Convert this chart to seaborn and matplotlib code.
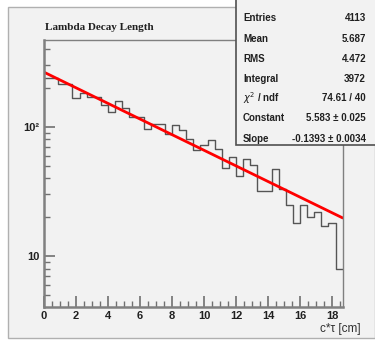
import numpy as np
import pandas as pd
import matplotlib
matplotlib.use("Agg")
import matplotlib.pyplot as plt
import seaborn as sns
from matplotlib.patches import Rectangle
from matplotlib.ticker import FixedLocator, FixedFormatter, MultipleLocator, NullFormatter

# ---- data ----
x_min, x_max, n_bins = 0.0, 18.67, 42
counts = [238, 238, 215, 215, 169, 182, 172, 172, 148, 131,
          159, 140, 120, 120, 96, 105, 105, 89, 104, 94,
          80, 66, 73, 79, 68, 48, 59, 42, 56, 51,
          32, 32, 47, 33, 25, 18, 25, 20, 22, 17,
          18, 8]
fit_constant = 5.583
fit_slope = -0.1393
stat_labels = ["Entries", "Mean", "RMS", "Integral", r"$\chi^2$ / ndf", "Constant", "Slope"]
stat_values = ["4113", "5.687", "4.472", "3972", "74.61 / 40",
               "5.583 ± 0.025", "-0.1393 ± 0.0034"]
title = "Lambda Decay Length"
xlabel = "c*τ [cm]"
xticks = [0, 2, 4, 6, 8, 10, 12, 14, 16, 18]
yticks = [10, 100]
ytick_labels = ["10", "10²"]

edges = np.linspace(x_min, x_max, n_bins + 1)
centers = 0.5 * (edges[:-1] + edges[1:])
df = pd.DataFrame({"x": centers, "w": counts})
fit_x = np.array([x_min, x_max])
fit_df = pd.DataFrame({"x": fit_x, "y": np.exp(fit_constant + fit_slope * fit_x)})

W, H = 375, 340
bg = "#f2f2f2"
sns.set_theme(style="white")
plt.rcParams["font.family"] = ["Liberation Sans", "DejaVu Sans"]

fig = plt.figure(figsize=(W / 100, H / 100), dpi=100)
fig.patch.set_facecolor("white")
fig.add_artist(Rectangle((8 / W, 1 - 338 / H), (W - 8) / W, (338 - 7) / H,
                         transform=fig.transFigure, facecolor=bg,
                         edgecolor="#b0b0b0", lw=1.0, zorder=0))

ax = fig.add_axes([44 / W, 1 - 306.7 / H, (342.7 - 44) / W, (306.7 - 40) / H])
ax.set_facecolor(bg)
sns.histplot(data=df, x="x", weights="w", bins=n_bins, binrange=(x_min, x_max),
             element="step", fill=False, color="#555555", linewidth=1.0, ax=ax)
sns.lineplot(data=fit_df, x="x", y="y", color="#ff0000", linewidth=2.0, ax=ax)
ax.set_yscale("log")
ax.set_xlim(x_min, x_max)
ax.set_ylim(4.05, 472)
ax.set_xlabel("")
ax.set_ylabel("")

for s in ax.spines.values():
    s.set_color("#808080")
    s.set_linewidth(1.0)
ax.spines["left"].set_linewidth(1.8)
ax.spines["bottom"].set_linewidth(1.8)

ax.xaxis.set_major_locator(FixedLocator(xticks))
ax.xaxis.set_minor_locator(MultipleLocator(0.5))
ax.yaxis.set_major_locator(FixedLocator(yticks))
ax.yaxis.set_major_formatter(FixedFormatter(ytick_labels))
minor_y = [v * d for d in (1, 10, 100) for v in range(2, 10) if 4.05 < v * d < 472]
ax.yaxis.set_minor_locator(FixedLocator(minor_y))
ax.yaxis.set_minor_formatter(NullFormatter())
ax.tick_params(axis="both", which="major", direction="in", length=8, width=1.2,
               color="#707070", labelsize=8, pad=3)
ax.tick_params(axis="both", which="minor", direction="in", length=4, width=1.0,
               color="#707070")
ax.tick_params(top=False, right=False, which="both")
ax.tick_params(axis="x", which="both", bottom=True)
ax.tick_params(axis="y", which="both", left=True)
for lab in ax.get_xticklabels() + ax.get_yticklabels():
    lab.set_fontweight("bold")
    lab.set_color("#202020")

fig.text(45 / W, 1 - 28 / H, title, family="Liberation Serif", fontweight="bold",
         fontsize=8, ha="left", va="center", color="#202020")
fig.text(361 / W, 1 - 329 / H, xlabel, fontsize=8.5, ha="right", va="center",
         color="#303030")

# stats box
fig.add_artist(Rectangle((236 / W, 1 - 145 / H), (W - 236 + 5) / W, 150 / H,
                         transform=fig.transFigure, facecolor=bg,
                         edgecolor="#505050", lw=1.2, zorder=5))
rows_y = [18, 39, 59, 79, 98, 118, 139]
for yy, lab, val in zip(rows_y, stat_labels, stat_values):
    fig.text(243 / W, 1 - yy / H, lab, fontsize=7, ha="left", va="center",
             fontweight="bold", color="#202020", zorder=6)
    fig.text(366 / W, 1 - yy / H, val, fontsize=7, ha="right", va="center",
             fontweight="bold", color="#202020", zorder=6)

fig.savefig("out.png", dpi=100, facecolor="white")
